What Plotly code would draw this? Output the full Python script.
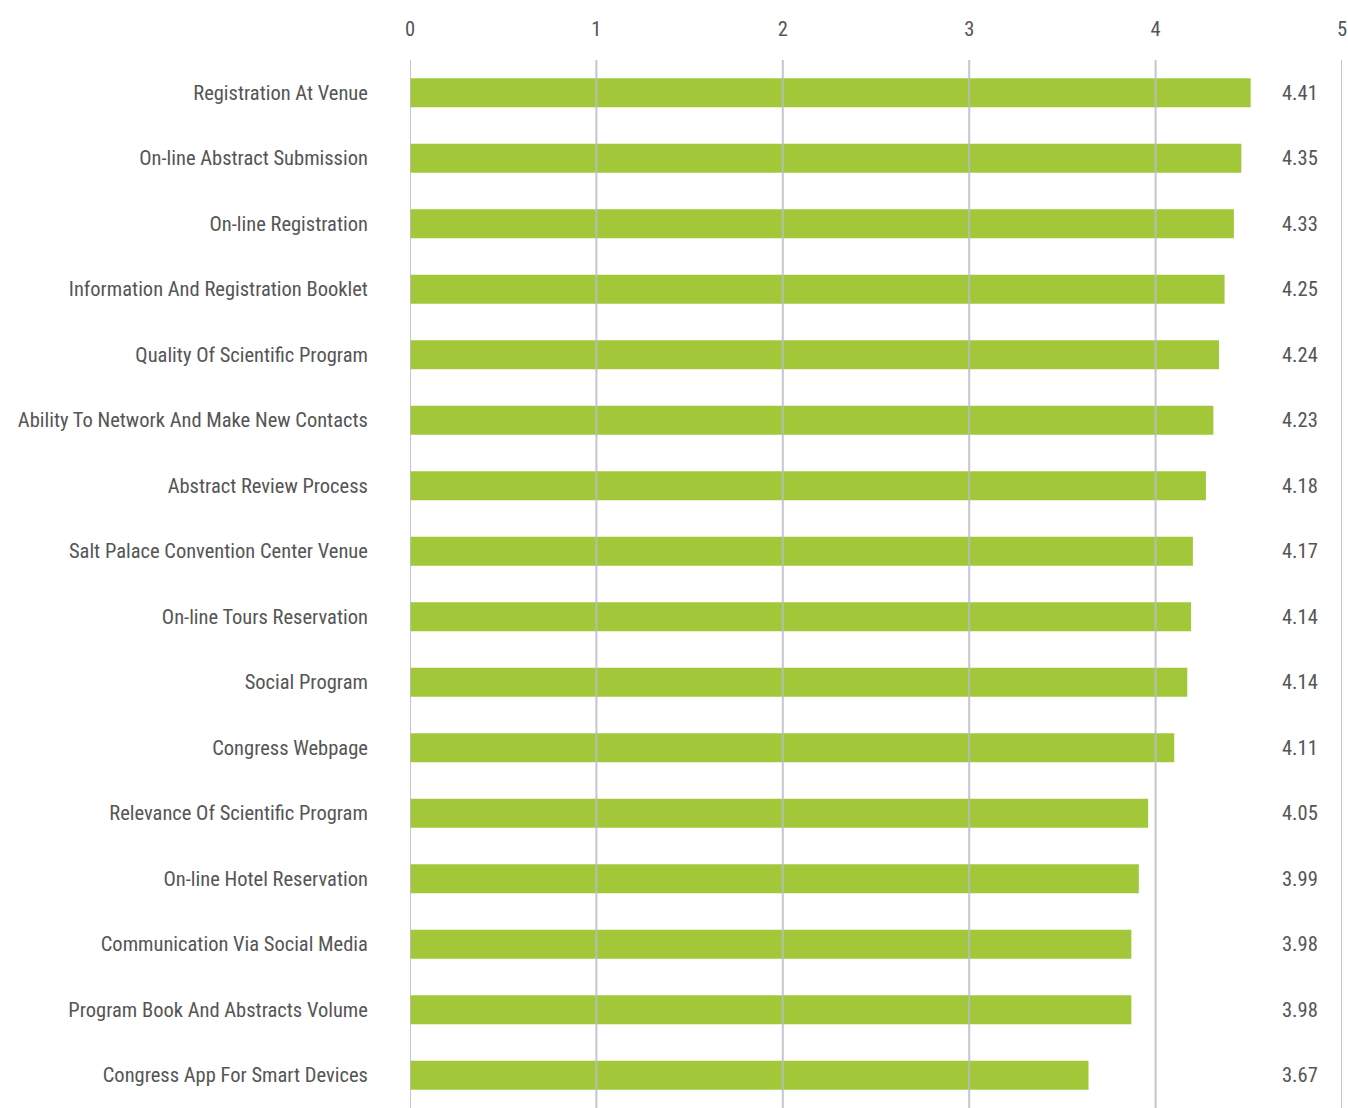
import plotly.graph_objects as go

categories = [
    "Registration At Venue",
    "On-line Abstract Submission",
    "On-line Registration",
    "Information And Registration Booklet",
    "Quality Of Scientific Program",
    "Ability To Network And Make New Contacts",
    "Abstract Review Process",
    "Salt Palace Convention Center Venue",
    "On-line Tours Reservation",
    "Social Program",
    "Congress Webpage",
    "Relevance Of Scientific Program",
    "On-line Hotel Reservation",
    "Communication Via Social Media",
    "Program Book And Abstracts Volume",
    "Congress App For Smart Devices",
]
# bar lengths as drawn in the picture
bar_values = [4.51, 4.46, 4.42, 4.37, 4.34, 4.31, 4.27, 4.20, 4.19, 4.17,
              4.10, 3.96, 3.91, 3.87, 3.87, 3.64]
# printed value labels
value_labels = ["4.41", "4.35", "4.33", "4.25", "4.24", "4.23", "4.18", "4.17",
                "4.14", "4.14", "4.11", "4.05", "3.99", "3.98", "3.98", "3.67"]
x_ticks = [0, 1, 2, 3, 4, 5]

FONT = "Roboto Condensed, Liberation Sans Narrow, DejaVu Sans Condensed, sans-serif"
TXT = "#555555"
FS = 20.5

fig = go.Figure()
fig.add_trace(go.Bar(
    y=categories, x=bar_values, orientation="h",
    marker=dict(color="#a2c83a", line=dict(width=0)),
    width=0.44, hoverinfo="skip",
))

for v in x_ticks:
    fig.add_shape(type="line", xref="x", yref="paper", x0=v, x1=v, y0=0, y1=1,
                  line=dict(color="rgba(185,188,200,0.85)", width=2), layer="above")

for cat, lab in zip(categories, value_labels):
    fig.add_annotation(x=4.88, y=cat, xref="x", yref="y", text=lab,
                       showarrow=False, xanchor="right", yanchor="middle",
                       font=dict(family=FONT, size=FS, color=TXT))

fig.update_layout(
    width=1348, height=1108,
    margin=dict(l=410, r=6, t=60, b=0, autoexpand=False),
    paper_bgcolor="white", plot_bgcolor="white",
    showlegend=False,
    font=dict(family=FONT, size=FS, color=TXT),
    xaxis=dict(range=[0, 5], side="top", tickvals=x_ticks, showgrid=False,
               zeroline=False, showline=False, ticks="outside", ticklen=15,
               tickcolor="rgba(0,0,0,0)", tickfont=dict(family=FONT, size=FS, color=TXT),
               automargin=False, fixedrange=True),
    yaxis=dict(categoryorder="array", categoryarray=categories,
               autorange=False, range=[15.5, -0.5], showgrid=False, zeroline=False,
               showline=False, ticks="outside", ticklen=37, tickcolor="rgba(0,0,0,0)",
               tickfont=dict(family=FONT, size=FS, color=TXT),
               automargin=False, fixedrange=True),
)

fig.write_html(
    "out.html",
    config={"displayModeBar": False, "staticPlot": True},
    post_script="document.body.style.margin='0';document.body.style.overflow='hidden';",
)
